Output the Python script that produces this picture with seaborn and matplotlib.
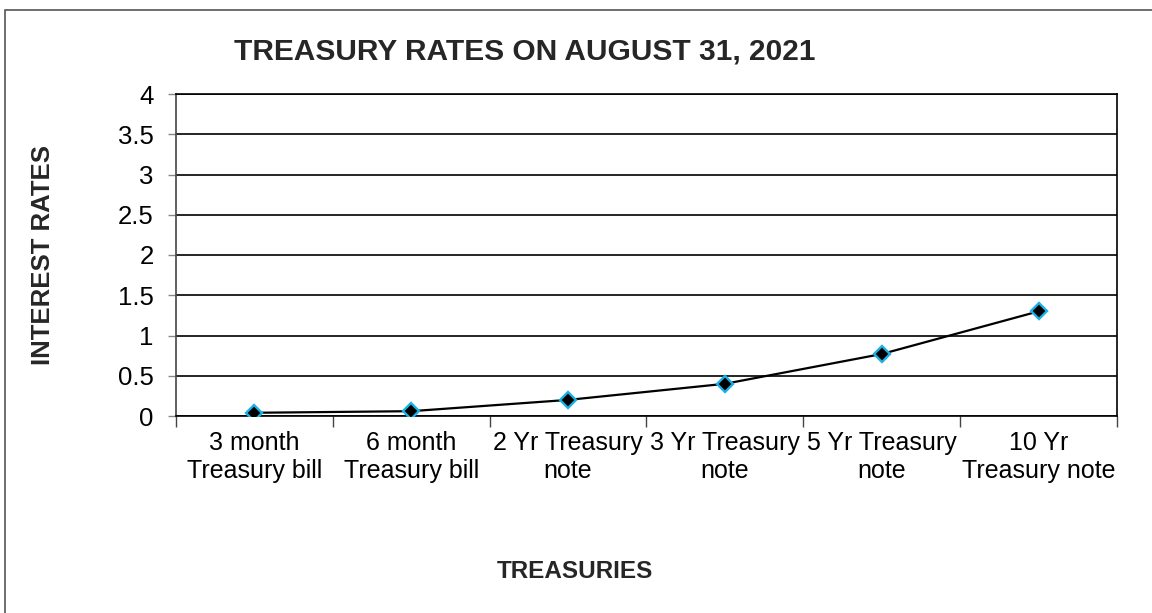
import matplotlib
matplotlib.use("Agg")
import matplotlib.pyplot as plt
from matplotlib.patches import Rectangle
from matplotlib.ticker import FixedLocator
import seaborn as sns
import pandas as pd

categories = ["3 month\nTreasury bill", "6 month\nTreasury bill", "2 Yr Treasury\nnote",
              "3 Yr Treasury\nnote", "5 Yr Treasury\nnote", "10 Yr\nTreasury note"]
rates = [0.04, 0.06, 0.20, 0.40, 0.77, 1.30]
y_ticks = [0, 0.5, 1, 1.5, 2, 2.5, 3, 3.5, 4]
y_tick_labels = ["0", "0.5", "1", "1.5", "2", "2.5", "3", "3.5", "4"]
title = "TREASURY RATES ON AUGUST 31, 2021"
x_title = "TREASURIES"
y_title = "INTEREST RATES"

sns.set_theme(style="white")
plt.rcParams["font.family"] = ["Liberation Sans", "DejaVu Sans"]

W, H = 1152, 613
fig = plt.figure(figsize=(W / 100, H / 100), dpi=100)
ax = fig.add_axes([176 / W, 1 - 416 / H, (1117 - 176) / W, (416 - 94) / H])

df = pd.DataFrame({"cat": categories, "rate": rates})
df["pos"] = range(len(categories))
sns.lineplot(data=df, x="pos", y="rate", ax=ax, sort=False, color="black", linewidth=1.6,
             marker="D", markersize=8.3, markerfacecolor="black",
             markeredgecolor="#1AB0E8", markeredgewidth=1.7, zorder=5)

ax.set_xlim(-0.5, len(categories) - 0.5)
ax.set_ylim(0, 4)
ax.set_yticks(y_ticks)
ax.set_yticklabels(y_tick_labels, fontsize=18.5)
ax.set_xticks(range(len(categories)))
ax.set_xticklabels(categories, fontsize=18, linespacing=1.22)
ax.xaxis.set_minor_locator(FixedLocator([i - 0.5 for i in range(len(categories) + 1)]))
ax.tick_params(axis="x", which="major", length=0, pad=11, colors="black")
ax.tick_params(axis="x", which="minor", length=8, width=1, color="#444444", direction="out", bottom=True)
ax.tick_params(axis="y", which="major", length=6, width=1, color="#888888", direction="out",
               left=True, pad=10, labelcolor="black")

ax.grid(axis="y", color="black", linewidth=1.2)
ax.set_axisbelow(True)
for s in ax.spines.values():
    s.set_color("black")
    s.set_linewidth(1.2)
ax.spines["left"].set_color("#444444")

ax.set_xlabel("")
ax.set_ylabel("")

fig.text(525 / W, 1 - 51 / H, title, fontsize=21.5, fontweight="bold", ha="center", va="center")
fig.text(43 / W, 1 - 255 / H, y_title, fontsize=18.5, fontweight="bold", rotation=90,
         ha="center", va="center")
fig.text(575 / W, 1 - 572 / H, x_title, fontsize=17.5, fontweight="bold", ha="center", va="center")

fig.patches.append(Rectangle((5 / W, -0.05), 1.2, 1.05 - 10 / H, transform=fig.transFigure,
                             fill=False, edgecolor="#555555", linewidth=1.2))

fig.savefig("out.png", dpi=100, facecolor="white")
